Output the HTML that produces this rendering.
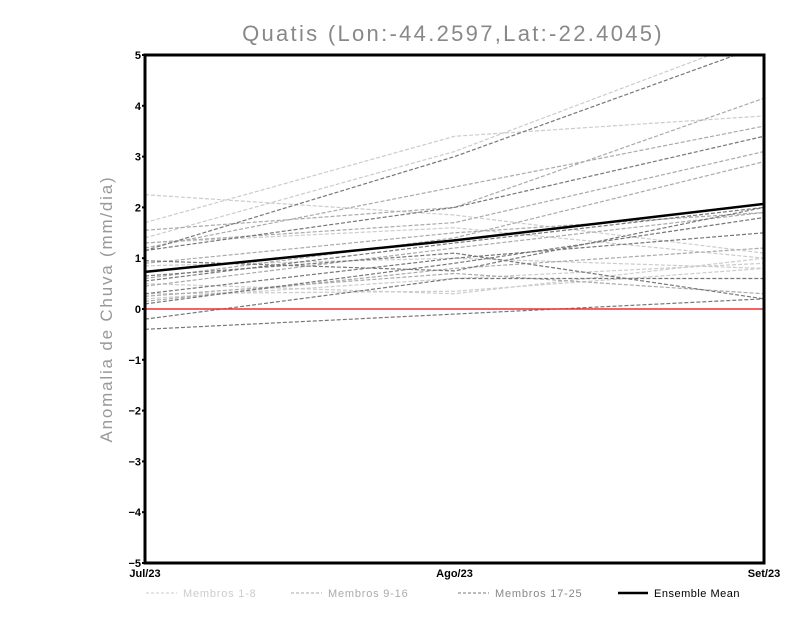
<!DOCTYPE html>
<html><head><meta charset="utf-8"><style>
body{margin:0;background:#fff;}
svg text{font-family:"Liberation Sans",sans-serif;}
</style></head><body>
<svg id="chart" width="800" height="618">
<defs><clipPath id="pc"><rect x="145" y="55" width="619" height="508"/></clipPath></defs>
<text x="453" y="41" text-anchor="middle" font-size="22" letter-spacing="2.3" fill="#888">Quatis (Lon:-44.2597,Lat:-22.4045)</text>
<text transform="translate(112,309) rotate(-90)" text-anchor="middle" font-size="17" letter-spacing="1.8" fill="#999">Anomalia de Chuva (mm/dia)</text>
<g id="series" clip-path="url(#pc)"></g>
<line x1="145" y1="309" x2="764" y2="309" stroke="#f03030" stroke-width="1.5"/>
<g id="meanG" clip-path="url(#pc)"></g>
<rect x="145" y="55" width="619" height="508" fill="none" stroke="#000" stroke-width="3"/>
<g id="axes"></g>
<g id="legend" font-size="11">
<line x1="146" y1="593" x2="177" y2="593" stroke="#ccc" stroke-dasharray="3,2"/>
<text x="183" y="597" fill="#ccc" letter-spacing="0.8">Membros 1-8</text>
<line x1="291" y1="593" x2="322" y2="593" stroke="#aaa" stroke-dasharray="3,2"/>
<text x="328" y="597" fill="#aaa" letter-spacing="0.8">Membros 9-16</text>
<line x1="458" y1="593" x2="489" y2="593" stroke="#777" stroke-dasharray="3,2"/>
<text x="495" y="597" fill="#888" letter-spacing="0.8">Membros 17-25</text>
<line x1="618" y1="593" x2="648" y2="593" stroke="#000" stroke-width="2.5"/>
<text x="654" y="597" fill="#000" letter-spacing="0.5">Ensemble Mean</text>
</g>
</svg>
<script>
const categories=["Jul/23","Ago/23","Set/23"];
const yTicks=[-5,-4,-3,-2,-1,0,1,2,3,4,5];
const members1to8=[[2.25,1.85,1.1],[1.7,3.4,3.8],[1.4,3.1,5.4],[0.3,0.35,0.8],[1.3,1.6,1.0],[0.2,0.6,0.9],[0.85,1.0,0.8],[0.5,0.3,1.0]];
const members9to16=[[1.55,2.0,4.15],[1.2,2.4,3.6],[1.3,1.7,3.1],[0.6,1.4,2.9],[0.9,1.5,1.9],[0.15,0.8,1.2],[0.25,0.7,0.3],[0.45,1.2,1.9]];
const members17to25=[[1.15,3.0,5.2],[1.15,2.0,3.4],[0.95,0.75,2.0],[0.55,1.3,2.0],[0.1,0.9,1.8],[0.3,1.0,1.5],[-0.2,0.6,0.6],[-0.4,-0.1,0.2],[0.65,1.1,0.2]];
const ensembleMean=[0.73,1.35,2.07];
const NS="http://www.w3.org/2000/svg";
const X0=145,X1=764,Y0=563,Y1=55;
function xs(i){return X0+(X1-X0)*i/(categories.length-1);}
function ys(v){return Y0-(v+5)/10*(Y0-Y1);}
function mk(t,a){const e=document.createElementNS(NS,t);for(const k in a)e.setAttribute(k,a[k]);return e;}
function pts(arr){return arr.map((v,i)=>xs(i)+","+ys(v)).join(" ");}
const sg=document.getElementById("series");
[[members1to8,"#ccc","members-1-8"],[members9to16,"#aaa","members-9-16"],[members17to25,"#777","members-17-25"]].forEach(([grp,c,n])=>{
 grp.forEach((m,j)=>{
  const p=mk("polyline",{points:pts(m),fill:"none",stroke:c,"stroke-width":1.2,"stroke-dasharray":"4,2"});
  
  
  sg.appendChild(p);
 });
});
const mp=mk("polyline",{points:pts(ensembleMean),fill:"none",stroke:"#000","stroke-width":2.5});


document.getElementById("meanG").appendChild(mp);
const ax=document.getElementById("axes");
yTicks.forEach(v=>{
 const t=mk("text",{x:X0-4,y:ys(v)+4,"text-anchor":"end","font-size":11,"font-weight":"bold"});
 t.textContent=String(v).replace("-","−");
 
 
 ax.appendChild(t);
 const l=mk("line",{x1:X0-3,x2:X0,y1:ys(v),y2:ys(v),stroke:"#000","stroke-width":2});
 
 
 ax.appendChild(l);
});
categories.forEach((c,i)=>{
 const t=mk("text",{x:xs(i),y:577,"text-anchor":"middle","font-size":11,"font-weight":"bold"});
 t.textContent=c;
 
 
 ax.appendChild(t);
});
</script>
</body></html>
